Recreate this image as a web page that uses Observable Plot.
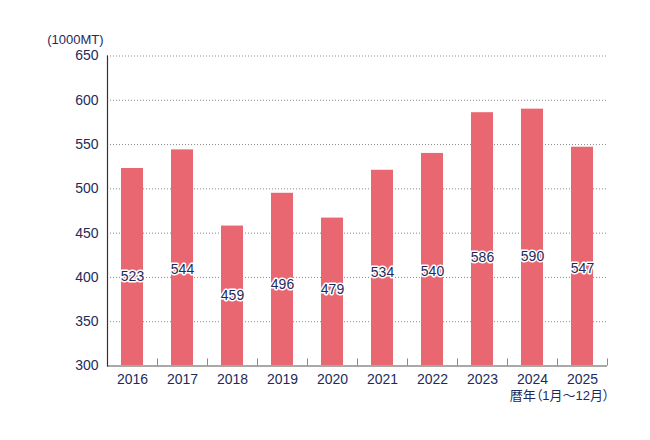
<!DOCTYPE html>
<html>
<head>
<meta charset="utf-8">
<script src="https://cdn.jsdelivr.net/npm/d3@7"></script>
<script src="https://cdn.jsdelivr.net/npm/@observablehq/plot@0.6"></script>
<style>
  html, body { margin: 0; padding: 0; background: #fff; }
  svg text { font-feature-settings: "palt"; }
</style>
</head>
<body>
<div id="chart"></div>
<script>
const years = ["2016","2017","2018","2019","2020","2021","2022","2023","2024","2025"];
// bar heights as drawn in the reference
const barValues = [523, 544, 458, 495, 467, 521, 540, 586, 590, 547];
// value labels printed on the bars
const labelValues = [523, 544, 459, 496, 479, 534, 540, 586, 590, 547];
const yTicks = [300, 350, 400, 450, 500, 550, 600, 650];
const unitLabel = "(1000MT)";
const captionLabel = "暦年（1月〜12月）";

const data = years.map((y, i) => ({year: y, value: barValues[i], label: labelValues[i]}));

const navy = "#1e2b5a";
const font = "'Liberation Sans', Arial, 'Noto Sans CJK JP', sans-serif";

const chart = Plot.plot({
  width: 650,
  height: 440,
  marginLeft: 107,
  marginRight: 43,
  marginTop: 55.5,
  marginBottom: 74.5,
  style: {fontFamily: font, color: navy, background: "#fff"},
  x: {type: "band", domain: years, paddingInner: 0.57, paddingOuter: 0.285, label: null},
  y: {domain: [300, 650], label: null},
  marks: [
    Plot.ruleY(yTicks.slice(1), {stroke: "#8a8a8a", strokeDasharray: "1,2", strokeWidth: 1}),
    Plot.barY(data, {x: "year", y1: 300, y2: "value", fill: "#e96771"}),
    Plot.ruleY([300], {stroke: "#a8a8a8", strokeWidth: 2}),
    Plot.ruleX(years, {x: d => d, dx: -25, y1: 300, y2: 308, stroke: "#8a8a8a", strokeWidth: 1}),
    Plot.ruleX([years[years.length - 1]], {x: d => d, dx: 25, y1: 300, y2: 308, stroke: "#8a8a8a", strokeWidth: 1}),
    Plot.ruleX([years[0]], {x: d => d, dx: -25, y1: 299, y2: 650, stroke: "#333", strokeWidth: 1.2}),
    Plot.axisY({ticks: yTicks, tickSize: 0, tickPadding: 9, fontSize: 14, fill: navy}),
    Plot.axisX({tickSize: 0, tickPadding: 8, fontSize: 14, fill: navy}),
    Plot.text(data, {
      x: "year",
      y: d => 226.3 + 0.335 * d.label,
      text: d => String(d.label),
      fontSize: 14,
      fill: navy,
      stroke: "white",
      strokeWidth: 3,
      strokeLinejoin: "round"
    }),
    Plot.text([unitLabel], {frameAnchor: "top-left", textAnchor: "end", dx: -4, dy: -21, fontSize: 13, fill: navy}),
    Plot.text([captionLabel], {frameAnchor: "bottom-right", textAnchor: "end", dx: 2, dy: 34, fontSize: 13, fill: navy})
  ]
});
document.getElementById("chart").appendChild(chart);
</script>
</body>
</html>
